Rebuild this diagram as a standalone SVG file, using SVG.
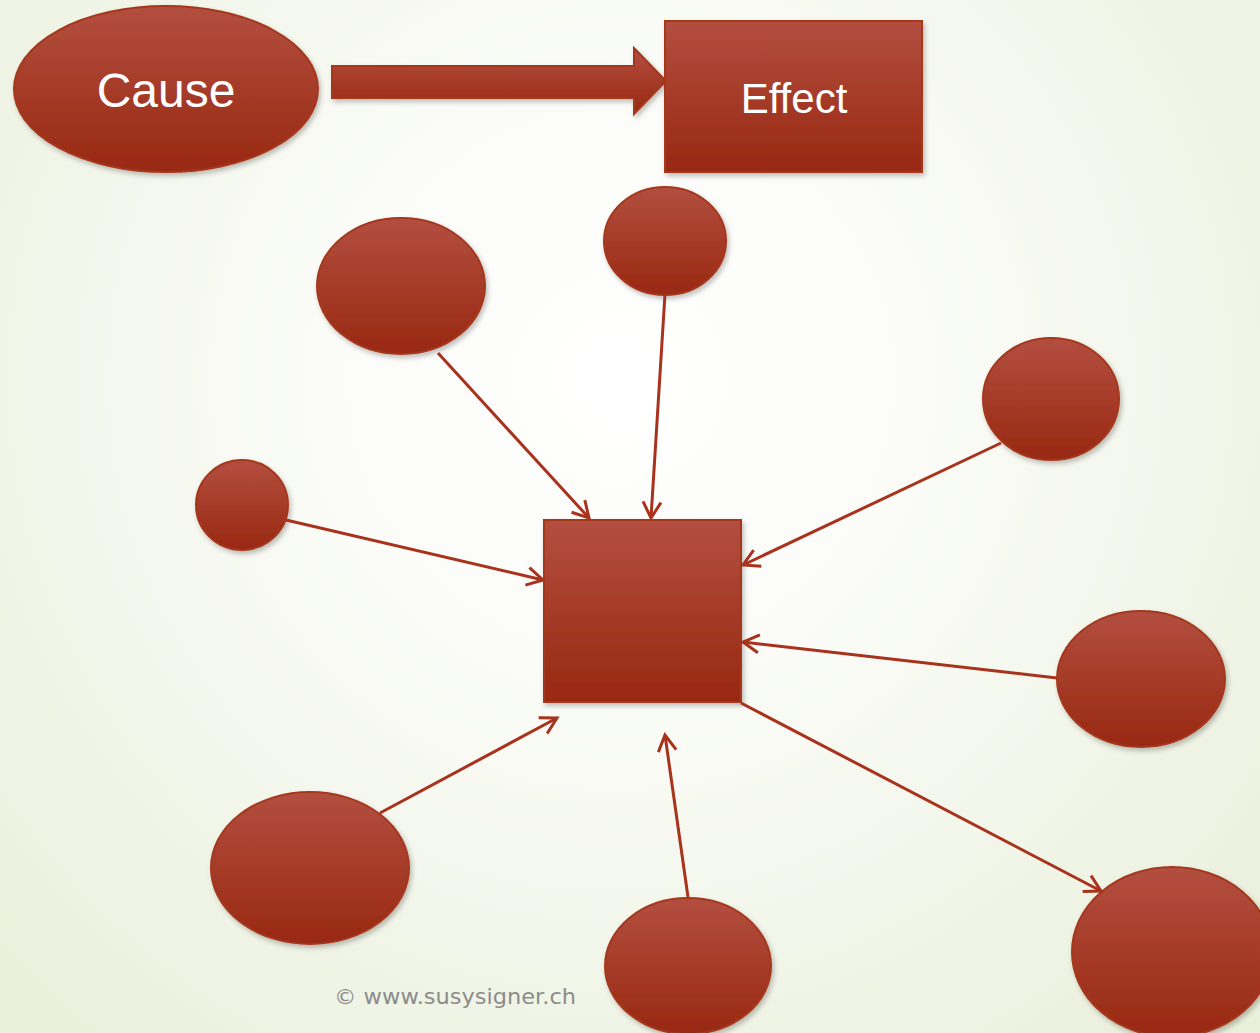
<svg xmlns="http://www.w3.org/2000/svg" width="1260" height="1033" viewBox="0 0 1260 1033">
<defs>
<radialGradient id="bg" cx="620" cy="380" r="850" gradientUnits="userSpaceOnUse">
<stop offset="0" stop-color="#ffffff"/>
<stop offset="0.35" stop-color="#fbfcf8"/>
<stop offset="1" stop-color="#eaf0dc"/>
</radialGradient>
<linearGradient id="red" x1="0" y1="0" x2="0" y2="1">
<stop offset="0" stop-color="#b34f40"/>
<stop offset="1" stop-color="#982811"/>
</linearGradient>
<filter id="sh" x="-10%" y="-10%" width="130%" height="130%">
<feDropShadow dx="2" dy="3" stdDeviation="2.5" flood-color="#000" flood-opacity="0.25"/>
</filter>
<marker id="arr" markerUnits="userSpaceOnUse" viewBox="0 0 22 22" refX="19" refY="11" markerWidth="22" markerHeight="22" orient="auto">
<path d="M3,2 L19,11 L3,20" fill="none" stroke="#a8321c" stroke-width="3"/>
</marker>
<style>
.n{fill:url(#red);stroke:#a5391f;stroke-width:2;filter:url(#sh)}
.c{stroke:#a8321c;stroke-width:3;fill:none;marker-end:url(#arr)}
.t{fill:#ffffff;font-family:"Liberation Sans",Arial,sans-serif;text-anchor:middle}
</style>
</defs>
<rect width="1260" height="1033" fill="url(#bg)"/>
<g id="cause"><ellipse class="n" cx="166" cy="89" rx="152" ry="83"/><text class="t" x="166" y="107" font-size="48">Cause</text></g>
<g id="big-arrow"><path class="n" d="M332,66 L634,66 L634,48 L666,81 L634,114 L634,98 L332,98 Z"/></g>
<g id="effect"><rect class="n" x="665" y="21" width="257" height="151"/><text class="t" x="794" y="113" font-size="42">Effect</text></g>
<g id="center"><rect class="n" x="544" y="520" width="197" height="182"/></g>
<g id="c1"><ellipse class="n" cx="401" cy="286" rx="84" ry="68"/></g>
<g id="c2"><ellipse class="n" cx="665" cy="241" rx="61" ry="54"/></g>
<g id="c3"><ellipse class="n" cx="1051" cy="399" rx="68" ry="61"/></g>
<g id="c4"><ellipse class="n" cx="242" cy="505" rx="46" ry="45"/></g>
<g id="c5"><ellipse class="n" cx="1141" cy="679" rx="84" ry="68"/></g>
<g id="c6"><ellipse class="n" cx="310" cy="868" rx="99" ry="76"/></g>
<g id="c7"><ellipse class="n" cx="688" cy="966" rx="83" ry="68"/></g>
<g id="c8"><ellipse class="n" cx="1172" cy="952" rx="100" ry="85"/></g>
<g id="connectors">
<line class="c" x1="438" y1="353" x2="589" y2="518"/>
<line class="c" x1="665" y1="294" x2="651" y2="518"/>
<line class="c" x1="1001" y1="443" x2="743" y2="565"/>
<line class="c" x1="286" y1="520" x2="543" y2="580"/>
<line class="c" x1="1057" y1="678" x2="743" y2="642"/>
<line class="c" x1="380" y1="813" x2="557" y2="718"/>
<line class="c" x1="688" y1="897" x2="665" y2="735"/>
<line class="c" x1="741" y1="703" x2="1101" y2="891"/>
</g>
<text x="334" y="1004" font-family="'DejaVu Sans',sans-serif" font-size="21" fill="#8c8c8c" textLength="242" lengthAdjust="spacingAndGlyphs">© www.susysigner.ch</text>
</svg>
